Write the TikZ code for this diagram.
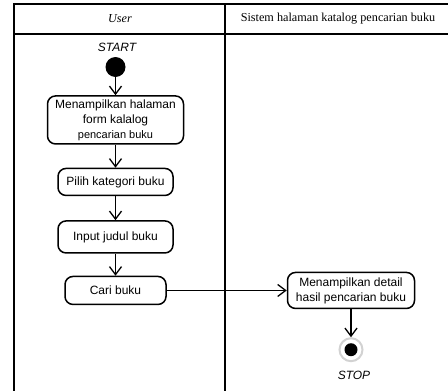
\documentclass[tikz,border=0pt]{standalone}
\usepackage{fontspec}
\setmainfont{Liberation Serif}
\setsansfont{Liberation Sans}
\usetikzlibrary{positioning,arrows.meta}

\tikzset{
  activity/.style={draw,line width=1.5pt,rounded corners=8pt,align=center,
    font=\sffamily\fontsize{12}{15}\selectfont,inner sep=2pt},
  flow/.style={line width=1.3pt,-{Straight Barb[length=8pt,width=12pt,line width=1.3pt]}},
  lane/.style={line width=1.8pt}
}

\begin{document}
\begin{tikzpicture}[x=1pt,y=-1pt]
		\useasboundingbox (0,0) rectangle (448,391);
		% swimlanes
		\draw [lane] (448,4)--(14,4)--(14,391);
		\draw [lane] (14,34)--(448,34);
		\draw [lane] (225,4)--(225,391);
		\node (usr) at (120,19) {\fontsize{12.2}{14}\selectfont\itshape User};
		\node (sys) at (338,19) {\fontsize{12.2}{14}\selectfont Sistem halaman katalog pencarian buku};
		% user lane
		\node [font=\sffamily\itshape\fontsize{12}{14}\selectfont] (startlbl) at (117,47) {START};
		\node [circle,fill=black,minimum size=20pt,inner sep=0pt] (start) at (115.5,67) {};
		\node [activity,minimum width=136pt,minimum height=48pt,below=18pt of start] (form) {Menampilkan halaman\\form kalalog\\{\fontsize{11}{13}\selectfont pencarian buku}};
		\node [activity,minimum width=115pt,minimum height=27pt,below=23pt of form] (kat) {Pilih kategori buku};
		\node [activity,minimum width=115pt,minimum height=32pt,below=24pt of kat] (judul) {Input judul buku};
		\node [activity,minimum width=101pt,minimum height=28pt,below=22pt of judul] (cari) {Cari buku};
		% system lane
		\node [activity,minimum width=127pt,minimum height=36pt,right=120pt of cari] (hasil) {Menampilkan detail\\hasil pencarian buku};
		\node [circle,draw=gray!35,line width=2pt,fill=white,minimum size=23pt,inner sep=0pt,below=28pt of hasil] (stop) {};
		\fill (stop.center) circle (6.5);
		\node [font=\sffamily\itshape\fontsize{12}{14}\selectfont,below=5pt of stop,xshift=3pt] (stoplbl) {STOP};
		% flows
		\draw [flow] (start)--(form);
		\draw [flow] (form)--(kat);
		\draw [flow] (kat)--(judul);
		\draw [flow] (judul)--(cari);
		\draw [flow] (cari)--(hasil);
		\draw [flow] (hasil)--(stop);
\end{tikzpicture}
\end{document}
